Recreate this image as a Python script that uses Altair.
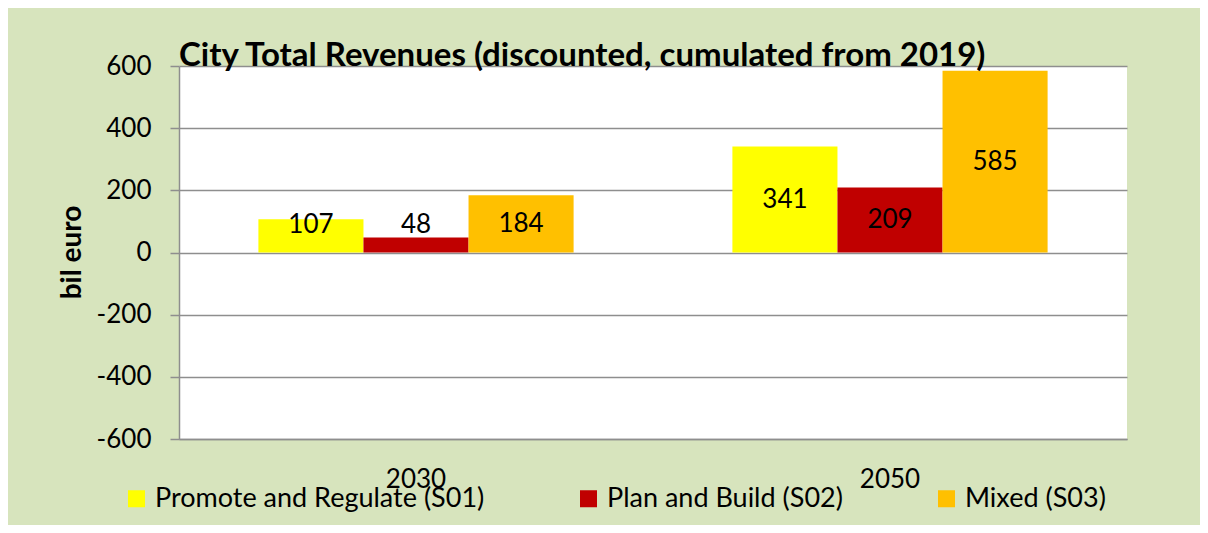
import altair as alt
import pandas as pd

years = ["2030", "2050"]
series = ["Promote and Regulate (S01)", "Plan and Build (S02)", "Mixed (S03)"]
colors = ["#FFFF00", "#C00000", "#FFC000"]
values_2030 = [107, 48, 184]
values_2050 = [341, 209, 585]
y_ticks = [-600, -400, -200, 0, 200, 400, 600]

rows = []
for yr, vals in zip(years, [values_2030, values_2050]):
    for s, v in zip(series, vals):
        rows.append({"year": yr, "series": s, "value": v})
df = pd.DataFrame(rows)

FONT = "Lato"
GRAY = "#8E8E8E"

x_enc = alt.X("year:N", sort=years,
              scale=alt.Scale(paddingInner=0.335, paddingOuter=0.1675),
              axis=alt.Axis(title=None, labelAngle=0, ticks=False, domain=True,
                            domainColor=GRAY, domainWidth=1.5,
                            labelFont=FONT, labelFontSize=26, labelColor="black",
                            labelPadding=27, labelBaseline="top"))
xoff = alt.XOffset("series:N", sort=series,
                   scale=alt.Scale(paddingInner=0, paddingOuter=0))

bars = alt.Chart(df).mark_bar().encode(
    x=x_enc,
    xOffset=xoff,
    y=alt.Y("value:Q",
            scale=alt.Scale(domain=[-600, 600], nice=False),
            axis=alt.Axis(values=y_ticks, title="bil euro",
                          labelExpr="'' + datum.value",
                          titleFont=FONT, titleFontSize=28, titleFontWeight="bold",
                          titleColor="black", titleX=-93, titleY=186,
                          titleAngle=-90, titleAlign="center", titleBaseline="bottom",
                          labelFont=FONT, labelFontSize=26, labelColor="black",
                          labelPadding=19, tickSize=9, tickColor=GRAY, tickWidth=1.5,
                          domainColor=GRAY, domainWidth=1.5,
                          gridColor=GRAY, gridWidth=1.5)),
    color=alt.Color("series:N", sort=series,
                    scale=alt.Scale(domain=series, range=colors),
                    legend=alt.Legend(title=None, orient="none", legendX=-56, legendY=419,
                                      direction="horizontal", symbolType="square",
                                      symbolSize=289, symbolStrokeWidth=0, padding=0,
                                      labelFont=FONT, labelFontSize=27, labelColor="black",
                                      labelOffset=5, labelLimit=600, columnPadding=90)),
)

labels = alt.Chart(df).transform_calculate(
    labelpos="max(datum.value / 2, 87)"
).mark_text(font=FONT, fontSize=26, color="black", baseline="middle").encode(
    x=alt.X("year:N", sort=years),
    xOffset=xoff,
    y=alt.Y("labelpos:Q"),
    text=alt.Text("value:Q"),
)

chart = alt.layer(bars, labels).properties(
    width=948, height=373,
    padding={"left": 171, "top": 58, "right": 73, "bottom": 86},
    autosize=alt.AutoSizeParams(type="none"),
    background="#D7E4BD",
    title=alt.TitleParams("City Total Revenues (discounted, cumulated from 2019)",
                          anchor="start", frame="group", font=FONT, fontSize=33,
                          fontWeight="bold", color="black", baseline="alphabetic",
                          offset=5, dy=51),
).configure_view(fill="white", strokeWidth=0)

chart.save("out.html", embed_options={"renderer": "svg", "actions": False})
